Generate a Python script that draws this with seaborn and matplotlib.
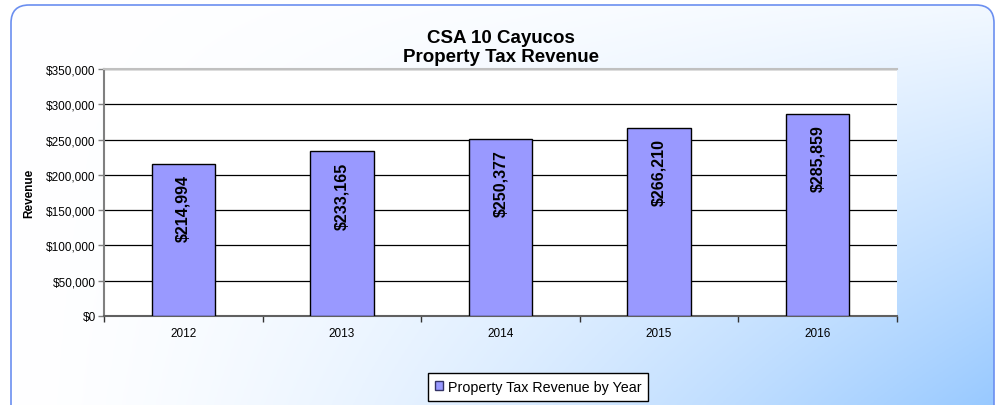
import numpy as np
import pandas as pd
import matplotlib
matplotlib.use("Agg")
import matplotlib.pyplot as plt
import seaborn as sns
from matplotlib.patches import FancyBboxPatch
from matplotlib.ticker import FuncFormatter, FixedLocator

years = ["2012", "2013", "2014", "2015", "2016"]
revenue = [214994, 233165, 250377, 266210, 285859]
series_name = "Property Tax Revenue by Year"
title = "CSA 10 Cayucos\nProperty Tax Revenue"
ylabel = "Revenue"

sns.set_theme(style="white")
plt.rcParams["font.family"] = ["Liberation Sans", "DejaVu Sans"]
plt.rcParams["text.color"] = "black"
plt.rcParams["axes.labelcolor"] = "black"

fig = plt.figure(figsize=(9.97, 4.06), dpi=100)

# background gradient inside rounded frame
bg = fig.add_axes([0, 0, 1, 1], zorder=0)
bg.set_xlim(0, 997)
bg.set_ylim(406, 0)
bg.axis("off")
xx, yy = np.meshgrid(np.linspace(0, 1, 300), np.linspace(0, 1, 150))
t = (xx ** 1.5) * (0.12 + 0.88 * yy)
t = np.clip(t, 0, 1)
c0 = np.array([1.0, 1.0, 1.0])
c1 = np.array([0.58, 0.78, 1.0])
img = c0[None, None, :] * (1 - t[..., None]) + c1[None, None, :] * t[..., None]
frame = FancyBboxPatch((11, 6), 983, 420, boxstyle="round,pad=0,rounding_size=18",
                       facecolor="none", edgecolor="#6b8ff0", linewidth=1.2,
                       transform=bg.transData)
bg.add_patch(frame)
im = bg.imshow(img, extent=[11, 994, 426, 6], aspect="auto", zorder=0)
im.set_clip_path(frame)

ax = fig.add_axes([104 / 997, 1 - 317 / 406, (897 - 104) / 997, (317 - 70) / 406], zorder=2)
ax.set_facecolor("white")

df = pd.DataFrame({"Year": years, "Revenue": revenue})
sns.barplot(data=df, x="Year", y="Revenue", color="#9999FF", edgecolor="black",
            linewidth=1.0, width=0.4, saturation=1, ax=ax, label=series_name, zorder=3)

ax.set_ylim(0, 350000)
ax.set_xlim(-0.5, len(years) - 0.5)
ax.yaxis.set_major_locator(FixedLocator(np.arange(0, 350001, 50000)))
ax.yaxis.set_major_formatter(FuncFormatter(lambda v, p: f"${v:,.0f}"))
ax.grid(axis="y", color="black", linewidth=0.9, zorder=1)
ax.set_axisbelow(True)

ax.spines["right"].set_visible(False)
ax.spines["top"].set_color("#c0c0c0")
ax.spines["top"].set_linewidth(1.5)
ax.spines["left"].set_color("#808080")
ax.spines["left"].set_linewidth(1.5)
ax.spines["bottom"].set_color("#606060")
ax.spines["bottom"].set_linewidth(1.5)

ax.tick_params(axis="y", which="major", length=4, width=1, color="#808080", labelsize=8.5,
               left=True, pad=2, labelcolor="black")
ax.tick_params(axis="x", which="major", length=0, labelsize=8.5, pad=8, labelcolor="black")
ax.set_xticks(np.arange(-0.5, len(years), 1.0), minor=True)
ax.tick_params(axis="x", which="minor", length=4, width=1, color="#333333", bottom=True)

ax.set_xlabel("")
ax.set_ylabel(ylabel, fontsize=8.5, fontweight="bold", labelpad=8, color="black")
ax.set_title(title, fontsize=13.5, fontweight="bold", pad=6, linespacing=1.1, color="black")

for i, v in enumerate(revenue):
    ax.annotate(f"${v:,.0f}", xy=(i, v), xytext=(0, -10), textcoords="offset pixels",
                rotation=90, ha="center", va="top", fontsize=11.5, fontweight="bold",
                color="black", zorder=4)

leg = ax.legend(loc="center", bbox_to_anchor=(538 / 997, 1 - 388 / 406),
                bbox_transform=fig.transFigure, frameon=True, fancybox=False,
                fontsize=10.3, handlelength=0.6, handleheight=0.6, handletextpad=0.3,
                borderpad=0.5, borderaxespad=0)
leg.get_frame().set_edgecolor("black")
leg.get_frame().set_linewidth(1.0)
leg.get_frame().set_facecolor("white")
leg.get_frame().set_alpha(1)
for h in leg.legend_handles:
    h.set_edgecolor("#333366")

fig.savefig("out.png", dpi=100)
